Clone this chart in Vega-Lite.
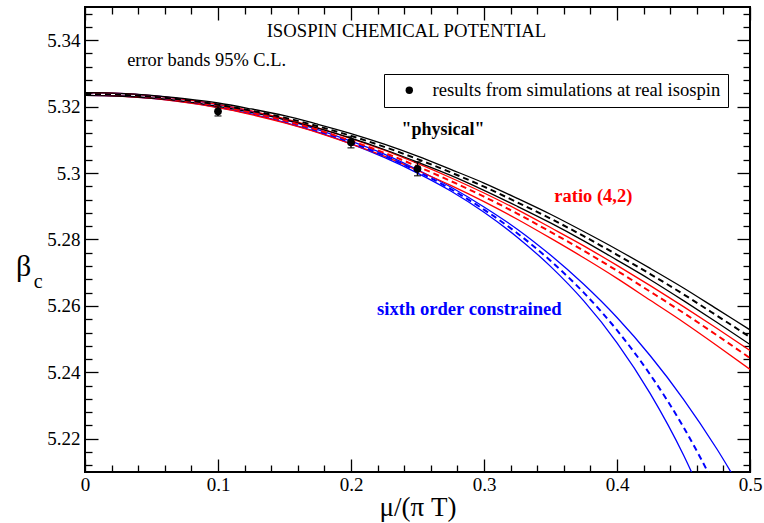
{
  "$schema": "https://vega.github.io/schema/vega-lite/v6.json",
  "width": 665,
  "height": 465,
  "autosize": {"type": "none"},
  "padding": {"left": 85, "top": 7, "right": 14, "bottom": 51},
  "background": "white",
  "config": {
    "view": {"stroke": "black", "strokeWidth": 2},
    "axis": {"grid": false, "domain": false, "labelFont": "Liberation Serif", "titleFont": "Liberation Serif", "labelColor": "black", "titleColor": "black", "tickColor": "black", "labelFontSize": 19, "tickWidth": 1.3},
    "style": {"guide-label": {"font": "Liberation Serif", "fill": "black"}, "guide-title": {"font": "Liberation Serif", "fill": "black"}},
    "text": {"font": "Liberation Serif"}
  },
  "datasets": {
    "curves": [
      {"mu": 0, "pu": 5.3242, "pc": 5.3238, "pl": 5.3234, "ru": 5.3242, "rc": 5.3238, "rl": 5.3234, "su": 5.3242, "sc": 5.3238, "sl": 5.3234},
      {"mu": 0.025, "pu": 5.3240, "pc": 5.3236, "pl": 5.3232, "ru": 5.3240, "rc": 5.3236, "rl": 5.3232, "su": 5.3240, "sc": 5.3236, "sl": 5.3232},
      {"mu": 0.05, "pu": 5.3234, "pc": 5.3230, "pl": 5.3226, "ru": 5.3233, "rc": 5.3229, "rl": 5.3225, "su": 5.3233, "sc": 5.3229, "sl": 5.3225},
      {"mu": 0.075, "pu": 5.3224, "pc": 5.3220, "pl": 5.3216, "ru": 5.3222, "rc": 5.3218, "rl": 5.3213, "su": 5.3222, "sc": 5.3218, "sl": 5.3214},
      {"mu": 0.1, "pu": 5.3211, "pc": 5.3206, "pl": 5.3201, "ru": 5.3207, "rc": 5.3202, "rl": 5.3197, "su": 5.3206, "sc": 5.3202, "sl": 5.3198},
      {"mu": 0.125, "pu": 5.3193, "pc": 5.3188, "pl": 5.3183, "ru": 5.3187, "rc": 5.3182, "rl": 5.3176, "su": 5.3186, "sc": 5.3182, "sl": 5.3178},
      {"mu": 0.15, "pu": 5.3173, "pc": 5.3167, "pl": 5.3161, "ru": 5.3164, "rc": 5.3158, "rl": 5.3151, "su": 5.3161, "sc": 5.3157, "sl": 5.3153},
      {"mu": 0.175, "pu": 5.3147, "pc": 5.3141, "pl": 5.3135, "ru": 5.3136, "rc": 5.3130, "rl": 5.3122, "su": 5.3131, "sc": 5.3127, "sl": 5.3123},
      {"mu": 0.2, "pu": 5.3119, "pc": 5.3112, "pl": 5.3105, "ru": 5.3104, "rc": 5.3097, "rl": 5.3088, "su": 5.3096, "sc": 5.3092, "sl": 5.3088},
      {"mu": 0.225, "pu": 5.3087, "pc": 5.3079, "pl": 5.3071, "ru": 5.3069, "rc": 5.3061, "rl": 5.3051, "su": 5.3057, "sc": 5.3052, "sl": 5.3047},
      {"mu": 0.25, "pu": 5.3051, "pc": 5.3042, "pl": 5.3033, "ru": 5.3029, "rc": 5.3020, "rl": 5.3008, "su": 5.3010, "sc": 5.3005, "sl": 5.3000},
      {"mu": 0.275, "pu": 5.3011, "pc": 5.3002, "pl": 5.2993, "ru": 5.2986, "rc": 5.2976, "rl": 5.2963, "su": 5.2958, "sc": 5.2952, "sl": 5.2946},
      {"mu": 0.3, "pu": 5.2970, "pc": 5.2959, "pl": 5.2948, "ru": 5.2940, "rc": 5.2929, "rl": 5.2914, "su": 5.2898, "sc": 5.2890, "sl": 5.2882},
      {"mu": 0.325, "pu": 5.2924, "pc": 5.2912, "pl": 5.2900, "ru": 5.2890, "rc": 5.2878, "rl": 5.2861, "su": 5.2831, "sc": 5.2819, "sl": 5.2807},
      {"mu": 0.35, "pu": 5.2876, "pc": 5.2863, "pl": 5.2850, "ru": 5.2836, "rc": 5.2823, "rl": 5.2804, "su": 5.2753, "sc": 5.2736, "sl": 5.2719},
      {"mu": 0.375, "pu": 5.2824, "pc": 5.2810, "pl": 5.2796, "ru": 5.2781, "rc": 5.2766, "rl": 5.2745, "su": 5.2665, "sc": 5.2640, "sl": 5.2615},
      {"mu": 0.4, "pu": 5.2770, "pc": 5.2754, "pl": 5.2738, "ru": 5.2722, "rc": 5.2706, "rl": 5.2683, "su": 5.2565, "sc": 5.2527, "sl": 5.2489},
      {"mu": 0.425, "pu": 5.2713, "pc": 5.2696, "pl": 5.2679, "ru": 5.2661, "rc": 5.2643, "rl": 5.2617, "su": 5.2450, "sc": 5.2393, "sl": 5.2336},
      {"mu": 0.45, "pu": 5.2654, "pc": 5.2635, "pl": 5.2616, "ru": 5.2598, "rc": 5.2579, "rl": 5.2551, "su": 5.2319, "sc": 5.2235, "sl": 5.2151},
      {"mu": 0.475, "pu": 5.2591, "pc": 5.2571, "pl": 5.2551, "ru": 5.2533, "rc": 5.2512, "rl": 5.2481, "su": 5.2170, "sc": 5.2046, "sl": 5.1922},
      {"mu": 0.5, "pu": 5.2528, "pc": 5.2506, "pl": 5.2484, "ru": 5.2466, "rc": 5.2443, "rl": 5.2409, "su": 5.2002, "sc": 5.1822, "sl": 5.1642}
    ],
    "points": [
      {"mu": 0.1, "beta": 5.3186, "lo": 5.3172, "hi": 5.3200, "kind": "results from simulations at real isospin"},
      {"mu": 0.2, "beta": 5.3093, "lo": 5.3076, "hi": 5.3110, "kind": "results from simulations at real isospin"},
      {"mu": 0.25, "beta": 5.3013, "lo": 5.2992, "hi": 5.3034, "kind": "results from simulations at real isospin"}
    ]
  },
  "layer": [
    {
      "data": {"name": "curves"},
      "transform": [{"fold": ["su", "sl", "ru", "rl", "pu", "pl"], "as": ["curve", "beta"]}],
      "mark": {"type": "line", "clip": true, "strokeWidth": 1.3, "interpolate": "monotone"},
      "encoding": {
        "x": {"field": "mu", "type": "quantitative", "scale": {"domain": [0, 0.5], "nice": false, "zero": false},
          "axis": {"orient": "bottom", "title": "μ/(π T)", "titleFont": "Liberation Serif", "titleFontSize": 27, "titleFontWeight": "normal", "titleY": 43, "titleBaseline": "alphabetic",
            "values": [0, 0.02, 0.04, 0.06, 0.08, 0.1, 0.12, 0.14, 0.16, 0.18, 0.2, 0.22, 0.24, 0.26, 0.28, 0.3, 0.32, 0.34, 0.36, 0.38, 0.4, 0.42, 0.44, 0.46, 0.48, 0.5],
            "labelExpr": "abs(datum.value*10 - round(datum.value*10)) < 1e-6 ? format(datum.value, '~g') : ''",
            "labelFont": "Liberation Serif", "labelFontSize": 19, "labelColor": "black",
            "tickSize": {"condition": {"test": "abs(datum.value*10 - round(datum.value*10)) < 1e-6", "value": -13}, "value": -7},
            "labelPadding": 16, "labelFlush": false, "labelOverlap": false}},
        "y": {"field": "beta", "type": "quantitative", "scale": {"domain": [5.21, 5.35], "nice": false, "zero": false},
          "axis": {"orient": "left", "title": "β", "titleFont": "Liberation Serif", "titleAngle": 0, "titleFontSize": 30, "titleFontWeight": "normal", "titleX": -62, "titleY": 268, "titleAlign": "center", "titleBaseline": "alphabetic",
            "values": [5.212, 5.216, 5.22, 5.224, 5.228, 5.232, 5.236, 5.24, 5.244, 5.248, 5.252, 5.256, 5.26, 5.264, 5.268, 5.272, 5.276, 5.28, 5.284, 5.288, 5.292, 5.296, 5.3, 5.304, 5.308, 5.312, 5.316, 5.32, 5.324, 5.328, 5.332, 5.336, 5.34, 5.344, 5.348],
            "labelExpr": "abs(datum.value*50 - round(datum.value*50)) < 1e-6 ? format(datum.value, '~g') : ''",
            "labelFont": "Liberation Serif", "labelFontSize": 19, "labelColor": "black",
            "tickSize": {"condition": {"test": "abs(datum.value*50 - round(datum.value*50)) < 1e-6", "value": -13}, "value": -7},
            "labelPadding": 18, "labelFlush": false, "labelOverlap": false}},
        "color": {"field": "curve", "type": "nominal", "scale": {"domain": ["su", "sl", "sc", "ru", "rl", "rc", "pu", "pl", "pc"], "range": ["#0000ff", "#0000ff", "#0000ff", "#ff0000", "#ff0000", "#ff0000", "#000000", "#000000", "#000000"]}, "legend": null}
      }
    },
    {
      "data": {"name": "curves"},
      "transform": [{"fold": ["sc", "rc", "pc"], "as": ["curve", "beta"]}],
      "mark": {"type": "line", "clip": true, "strokeWidth": 2, "strokeDash": [6, 4], "interpolate": "monotone"},
      "encoding": {
        "x": {"field": "mu", "type": "quantitative", "scale": {"domain": [0, 0.5], "nice": false, "zero": false},
          "axis": {"orient": "top", "title": null, "labels": false,
            "values": [0, 0.02, 0.04, 0.06, 0.08, 0.1, 0.12, 0.14, 0.16, 0.18, 0.2, 0.22, 0.24, 0.26, 0.28, 0.3, 0.32, 0.34, 0.36, 0.38, 0.4, 0.42, 0.44, 0.46, 0.48, 0.5],
            "tickSize": {"condition": {"test": "abs(datum.value*10 - round(datum.value*10)) < 1e-6", "value": -13}, "value": -7}}},
        "y": {"field": "beta", "type": "quantitative", "scale": {"domain": [5.21, 5.35], "nice": false, "zero": false},
          "axis": {"orient": "right", "title": null, "labels": false,
            "values": [5.212, 5.216, 5.22, 5.224, 5.228, 5.232, 5.236, 5.24, 5.244, 5.248, 5.252, 5.256, 5.26, 5.264, 5.268, 5.272, 5.276, 5.28, 5.284, 5.288, 5.292, 5.296, 5.3, 5.304, 5.308, 5.312, 5.316, 5.32, 5.324, 5.328, 5.332, 5.336, 5.34, 5.344, 5.348],
            "tickSize": {"condition": {"test": "abs(datum.value*50 - round(datum.value*50)) < 1e-6", "value": -13}, "value": -7}}},
        "color": {"field": "curve", "type": "nominal", "scale": {"domain": ["su", "sl", "sc", "ru", "rl", "rc", "pu", "pl", "pc"], "range": ["#0000ff", "#0000ff", "#0000ff", "#ff0000", "#ff0000", "#ff0000", "#000000", "#000000", "#000000"]}, "legend": null}
      }
    },
    {
      "data": {"name": "points"},
      "mark": {"type": "rule", "color": "black", "strokeWidth": 1.5},
      "encoding": {
        "x": {"field": "mu", "type": "quantitative", "axis": null},
        "y": {"field": "lo", "type": "quantitative", "axis": null},
        "y2": {"field": "hi"}
      }
    },
    {
      "data": {"name": "points"},
      "mark": {"type": "tick", "orient": "horizontal", "color": "black", "size": 7, "thickness": 1.5},
      "encoding": {
        "x": {"field": "mu", "type": "quantitative", "axis": null},
        "y": {"field": "lo", "type": "quantitative", "axis": null}
      }
    },
    {
      "data": {"name": "points"},
      "mark": {"type": "tick", "orient": "horizontal", "color": "black", "size": 7, "thickness": 1.5},
      "encoding": {
        "x": {"field": "mu", "type": "quantitative", "axis": null},
        "y": {"field": "hi", "type": "quantitative", "axis": null}
      }
    },
    {
      "data": {"name": "points"},
      "mark": {"type": "point", "filled": true, "color": "black", "size": 60, "opacity": 1},
      "encoding": {
        "x": {"field": "mu", "type": "quantitative", "axis": null},
        "y": {"field": "beta", "type": "quantitative", "axis": null},
        "shape": {"field": "kind", "type": "nominal", "scale": {"range": ["circle"]},
          "legend": {"title": null, "orient": "none", "legendX": 299, "legendY": 67, "strokeColor": "black", "padding": 7, "fillColor": "white",
            "labelFont": "Liberation Serif", "labelFontSize": 18.6, "labelColor": "black", "labelLimit": 400,
            "symbolSize": 55, "symbolFillColor": "black", "symbolStrokeColor": "black", "symbolOffset": 9, "labelOffset": 14}}
      }
    },
    {
      "data": {"values": [{"t": "ISOSPIN CHEMICAL POTENTIAL"}]},
      "mark": {"type": "text", "font": "Liberation Serif", "fontSize": 18.7, "align": "center", "baseline": "alphabetic", "color": "black"},
      "encoding": {
        "x": {"datum": 0.2417, "type": "quantitative", "axis": null},
        "y": {"datum": 5.3411, "type": "quantitative", "axis": null},
        "text": {"field": "t"}
      }
    },
    {
      "data": {"values": [{"t": "error bands 95% C.L."}]},
      "mark": {"type": "text", "font": "Liberation Serif", "fontSize": 18.4, "align": "left", "baseline": "alphabetic", "color": "black"},
      "encoding": {
        "x": {"datum": 0.0317, "type": "quantitative", "axis": null},
        "y": {"datum": 5.3323, "type": "quantitative", "axis": null},
        "text": {"field": "t"}
      }
    },
    {
      "data": {"values": [{"t": "\"physical\""}]},
      "mark": {"type": "text", "font": "Liberation Serif", "fontSize": 18, "fontWeight": "bold", "align": "center", "baseline": "alphabetic", "color": "black"},
      "encoding": {
        "x": {"datum": 0.2692, "type": "quantitative", "axis": null},
        "y": {"datum": 5.3116, "type": "quantitative", "axis": null},
        "text": {"field": "t"}
      }
    },
    {
      "data": {"values": [{"t": "ratio (4,2)"}]},
      "mark": {"type": "text", "font": "Liberation Serif", "fontSize": 18.5, "fontWeight": "bold", "align": "center", "baseline": "alphabetic", "color": "#ff0000"},
      "encoding": {
        "x": {"datum": 0.3822, "type": "quantitative", "axis": null},
        "y": {"datum": 5.2914, "type": "quantitative", "axis": null},
        "text": {"field": "t"}
      }
    },
    {
      "data": {"values": [{"t": "sixth order constrained"}]},
      "mark": {"type": "text", "font": "Liberation Serif", "fontSize": 18.6, "fontWeight": "bold", "align": "center", "baseline": "alphabetic", "color": "#0000ff"},
      "encoding": {
        "x": {"datum": 0.289, "type": "quantitative", "axis": null},
        "y": {"datum": 5.2572, "type": "quantitative", "axis": null},
        "text": {"field": "t"}
      }
    },
    {
      "data": {"values": [{"t": "c"}]},
      "mark": {"type": "text", "font": "Liberation Serif", "fontSize": 20, "align": "left", "baseline": "alphabetic", "color": "black"},
      "encoding": {
        "x": {"datum": -0.0385, "type": "quantitative", "axis": null},
        "y": {"datum": 5.2655, "type": "quantitative", "axis": null},
        "text": {"field": "t"}
      }
    }
  ],
  "resolve": {"axis": {"x": "independent", "y": "independent"}}
}
